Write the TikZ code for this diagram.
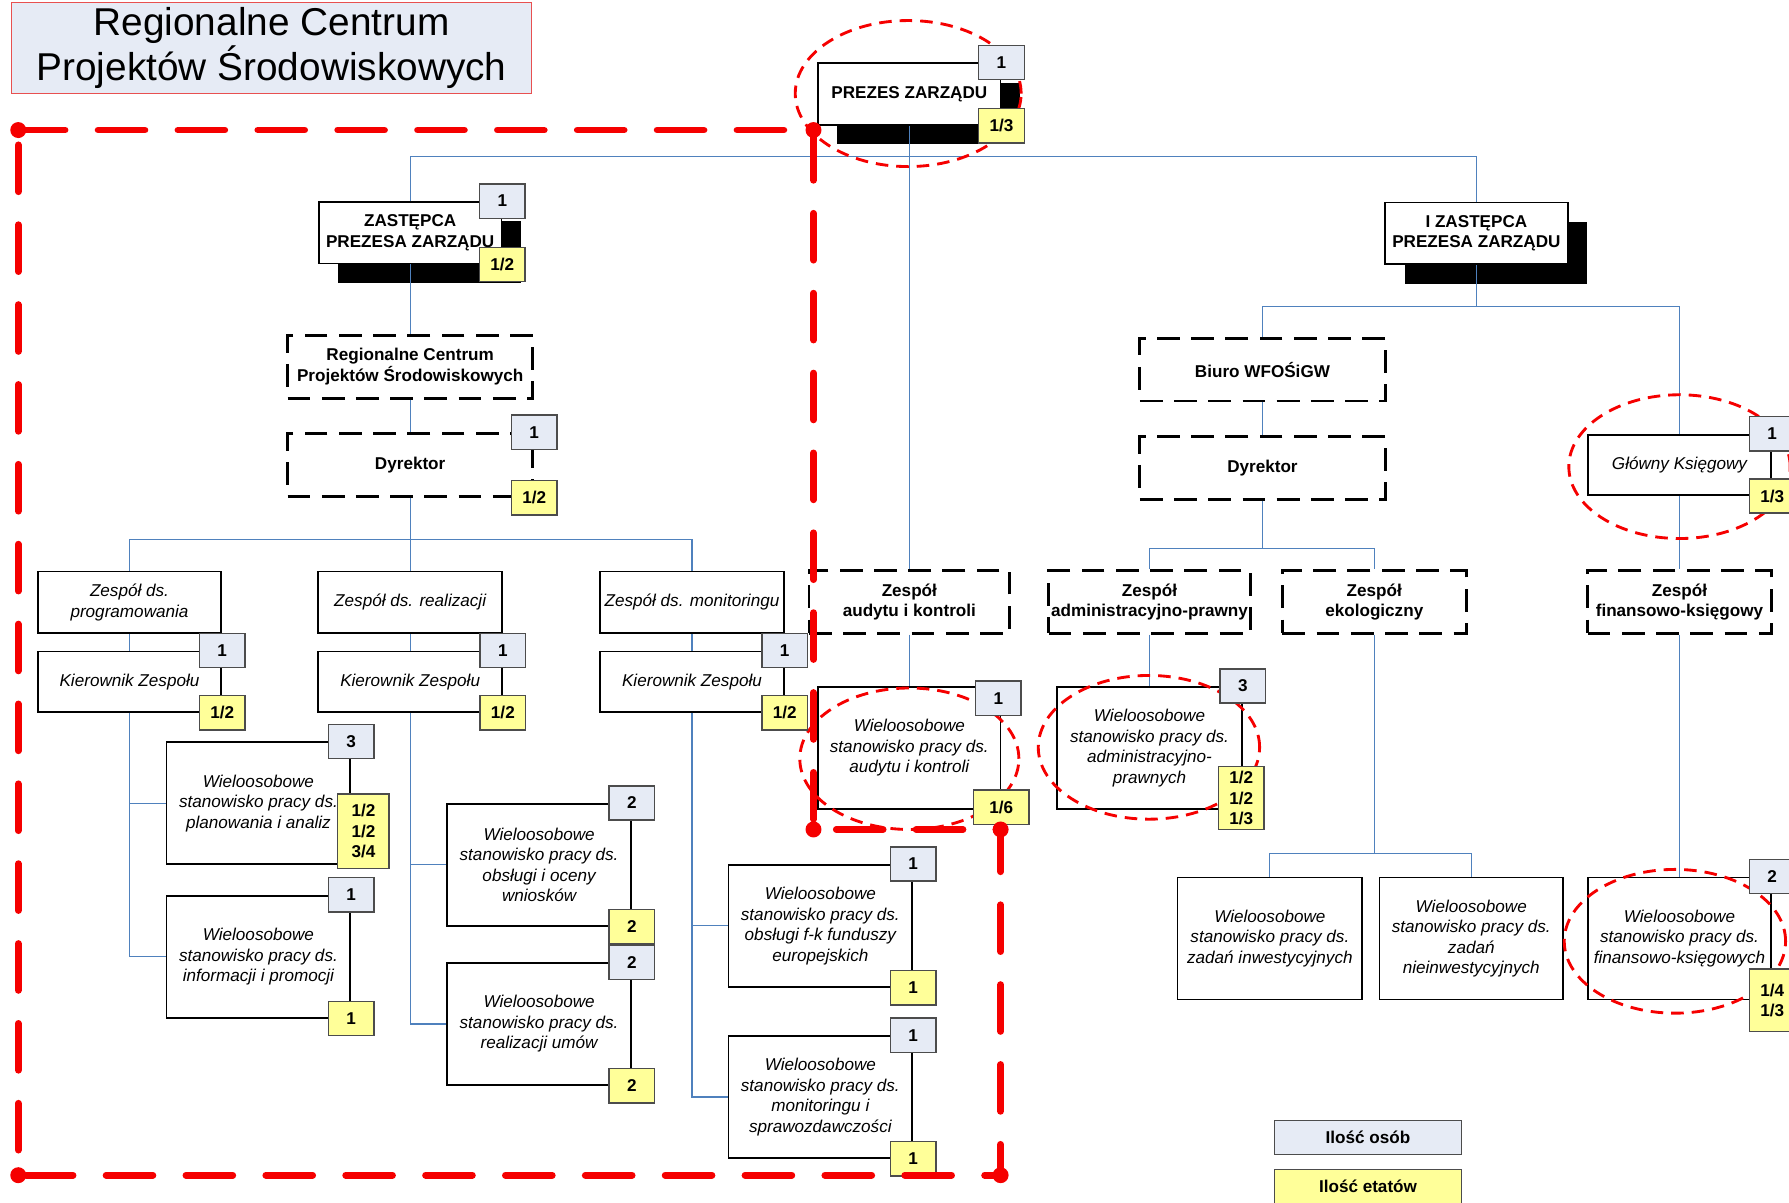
\documentclass[tikz,border=0pt]{standalone}
\usepackage{fontspec}
\setmainfont{Liberation Sans}
\usetikzlibrary{shadows, calc}

\definecolor{osobyfill}{RGB}{230,235,245}
\definecolor{etatyfill}{RGB}{255,255,153}
\definecolor{connblue}{RGB}{79,129,189}
\definecolor{framered}{RGB}{245,0,0}
\definecolor{titlered}{RGB}{232,80,80}

\tikzset{
  box/.style={draw=black, line width=1.5pt, fill=white, align=center, inner sep=0pt,
    minimum width=161pt, minimum height=54pt, font=\fontsize{15}{18}\selectfont\itshape},
  wbox/.style={box, minimum height=107pt},
  bbox/.style={box, font=\fontsize{15}{18}\selectfont\bfseries},
  topbox/.style={bbox, minimum width=160pt, general shadow={fill=black, shadow xshift=17pt, shadow yshift=-17pt}},
  dashbox/.style={bbox, line width=2.5pt, dash pattern=on 20pt off 10pt, minimum width=215pt, minimum height=55pt},
  osoby/.style={draw=black!70, line width=1.2pt, fill=osobyfill, minimum width=40pt, minimum height=30pt,
    inner sep=1pt, align=center, font=\fontsize{15}{18}\selectfont\bfseries},
  etaty/.style={osoby, fill=etatyfill},
  conn/.style={draw=connblue, line width=1pt},
  ramka/.style={draw=framered, line width=6pt, dash pattern=on 41pt off 29pt, line cap=round},
  krag/.style={draw=framered, line width=2.5pt, dash pattern=on 11pt off 7pt},
}

\begin{document}
\begin{tikzpicture}[x=1pt, y=-1pt]
\useasboundingbox (0,0) rectangle (1568,1054);

% Title
\node[draw=titlered, line width=1pt, fill=osobyfill, minimum width=456pt, minimum height=80pt, align=center,
  font=\fontsize{34}{40}\selectfont] (tytul) at (238,42) {Regionalne Centrum\\Projektów Środowiskowych};

% Management
\node[topbox] (prezes) at (797,82.5) {PREZES ZARZĄDU};
\node[topbox] (zast) at (359.5,204) {ZASTĘPCA\\PREZESA ZARZĄDU};
\node[topbox] (izast) at (1294,204.5) {I ZASTĘPCA\\PREZESA ZARZĄDU};

% Left branch: regional centre
\node[dashbox] (rcps) at (359.5,321.5) {Regionalne Centrum\\Projektów Środowiskowych};
\node[dashbox] (dyrL) at (359.5,407.5) {Dyrektor};

\foreach \n/\x/\txt in {prog/113.5/{Zespół ds.\\programowania}, real/359.5/{Zespół ds. realizacji}, mon/606.5/{Zespół ds. monitoringu}} {
    \node[box] (z\n) at (\x,528) {\txt};
    \node[box, minimum height=53pt] (k\n) at (\x,597.5) {Kierownik Zespołu};
    \draw[conn] (z\n.south) -- (k\n.north);
}

\node[wbox] (plan) at (226.5,704) {Wieloosobowe\\stanowisko pracy ds.\\planowania i analiz};
\node[wbox] (info) at (226.5,838.5) {Wieloosobowe\\stanowisko pracy ds.\\informacji i promocji};
\node[wbox] (wnio) at (472.5,758) {Wieloosobowe\\stanowisko pracy ds.\\obsługi i oceny\\wniosków};
\node[wbox] (umow) at (472.5,897.5) {Wieloosobowe\\stanowisko pracy ds.\\realizacji umów};
\node[wbox] (fk) at (719,811.5) {Wieloosobowe\\stanowisko pracy ds.\\obsługi f-k funduszy\\europejskich};
\node[wbox] (spraw) at (719,961.5) {Wieloosobowe\\stanowisko pracy ds.\\monitoringu i\\sprawozdawczości};

% Middle: audit
\node[dashbox, minimum width=176pt] (audyt) at (797,527.5) {Zespół\\audytu i kontroli};
\node[wbox, minimum width=160pt] (waud) at (797,655.5) {Wieloosobowe\\stanowisko pracy ds.\\audytu i kontroli};

% Right branch
\node[dashbox] (biuro) at (1106.5,324) {Biuro WFOŚiGW};
\node[dashbox] (dyrR) at (1106.5,410) {Dyrektor};
\node[dashbox, minimum width=177pt] (zadm) at (1007.5,527.5) {Zespół\\administracyjno-prawny};
\node[dashbox, minimum width=161pt] (zeko) at (1204.5,527.5) {Zespół\\ekologiczny};
\node[wbox, minimum width=162pt] (wadm) at (1007.5,655.5) {Wieloosobowe\\stanowisko pracy ds.\\administracyjno-\\prawnych};
\node[wbox, minimum width=162pt] (winw) at (1113,822.5) {Wieloosobowe\\stanowisko pracy ds.\\zadań inwestycyjnych};
\node[wbox] (wniew) at (1289.5,822.5) {Wieloosobowe\\stanowisko pracy ds.\\zadań\\nieinwestycyjnych};
\node[box, minimum height=53pt] (glowny) at (1472,407.5) {Główny Księgowy};
\node[dashbox, minimum width=161pt] (zfin) at (1472,527.5) {Zespół\\finansowo-księgowy};
\node[wbox] (wfin) at (1472,822.5) {Wieloosobowe\\stanowisko pracy ds.\\finansowo-księgowych};

% Connectors
\coordinate (busprezes) at (797,137);
\coordinate (busdyr) at (359.5,473);
\coordinate (buszast) at (1294,269);
\coordinate (busdyrR) at (1106.5,481);
\coordinate (buseko) at (1204.5,748);

\draw[conn] (prezes.south) -- (audyt.north);
\draw[conn] (zast.north) |- (busprezes) -| (izast.north);
\draw[conn] (zast.south) -- (rcps.north);
\draw[conn] (rcps.south) -- (dyrL.north);
\draw[conn] (dyrL.south) -- (zreal.north);
\draw[conn] (zprog.north) |- (busdyr) -| (zmon.north);
\draw[conn] (kprog.south) |- (plan.west);
\draw[conn] (kprog.south) |- (info.west);
\draw[conn] (kreal.south) |- (wnio.west);
\draw[conn] (kreal.south) |- (umow.west);
\draw[conn] (kmon.south) |- (fk.west);
\draw[conn] (kmon.south) |- (spraw.west);
\draw[conn] (audyt.south) -- (waud.north);

\draw[conn] (izast.south) -- (buszast);
\draw[conn] (biuro.north) |- (buszast) -| (glowny.north);
\draw[conn] (biuro.south) -- (dyrR.north);
\draw[conn] (dyrR.south) -- (busdyrR);
\draw[conn] (zadm.north) |- (busdyrR) -| (zeko.north);
\draw[conn] (zadm.south) -- (wadm.north);
\draw[conn] (zeko.south) -- (buseko);
\draw[conn] (winw.north) |- (buseko) -| (wniew.north);
\draw[conn] (glowny.south) -- (zfin.north);
\draw[conn] (zfin.south) -- (wfin.north);

% Red rings
\draw[krag] (796,82) ellipse [x radius=99pt, y radius=64pt];
\draw[krag] (1472,409) ellipse [x radius=97pt, y radius=63pt];
\draw[krag] (797,665) ellipse [x radius=96pt, y radius=62pt];
\draw[krag] (1007,655) ellipse [x radius=97pt, y radius=63pt];
\draw[krag] (1468,825) ellipse [x radius=97pt, y radius=63pt];

% Badges: persons / posts
\node[osoby] (prezes-o) at (prezes.north east) {1};
\node[etaty] (prezes-e) at (prezes.south east) {1/3};
\node[osoby] (zast-o) at (zast.north east) {1};
\node[etaty] (zast-e) at (zast.south east) {1/2};
\node[osoby] (dyrL-o) at (dyrL.north east) {1};
\node[etaty] (dyrL-e) at (dyrL.south east) {1/2};
\foreach \n in {prog, real, mon} {
    \node[osoby] (k\n-o) at (k\n.north east) {1};
    \node[etaty] (k\n-e) at (k\n.south east) {1/2};
}
\node[osoby] (plan-o) at (plan.north east) {3};
\node[etaty, minimum width=45pt, minimum height=65pt] (plan-e) at (318.5,728.5) {1/2\\1/2\\3/4};
\node[osoby] (info-o) at (info.north east) {1};
\node[etaty] (info-e) at (info.south east) {1};
\node[osoby] (wnio-o) at (wnio.north east) {2};
\node[etaty] (wnio-e) at (wnio.south east) {2};
\node[osoby] (umow-o) at (umow.north east) {2};
\node[etaty] (umow-e) at (umow.south east) {2};
\node[osoby] (fk-o) at (fk.north east) {1};
\node[etaty] (fk-e) at (fk.south east) {1};
\node[osoby] (spraw-o) at (spraw.north east) {1};
\node[etaty] (spraw-e) at (spraw.south east) {1};
\node[osoby] (waud-o) at (875,612) {1};
\node[etaty, minimum width=49pt] (waud-e) at (877.5,707.5) {1/6};
\node[osoby] (wadm-o) at (wadm.north east) {3};
\node[etaty, minimum height=55pt] (wadm-e) at (1088,699.5) {1/2\\1/2\\1/3};
\node[osoby] (glowny-o) at (glowny.north east) {1};
\node[etaty] (glowny-e) at (glowny.south east) {1/3};
\node[osoby] (wfin-o) at (wfin.north east) {2};
\node[etaty, minimum height=55pt] (wfin-e) at (wfin.south east) {1/4\\1/3};

% Legend
\node[osoby, minimum width=164pt] (leg-o) at (1199,997) {Ilość osób};
\node[etaty, minimum width=164pt] (leg-e) at (1199,1040) {Ilość etatów};

% Red frame
\draw[ramka] (16,114) -- (713,114) -- (713,727) -- (877,727) -- (877,1030) -- (16,1030) -- cycle;
\foreach \p in {(16,114), (713,114), (713,727), (877,727), (877,1030), (16,1030)} {
    \fill[framered] \p circle (7pt);
}

\end{tikzpicture}
\end{document}
